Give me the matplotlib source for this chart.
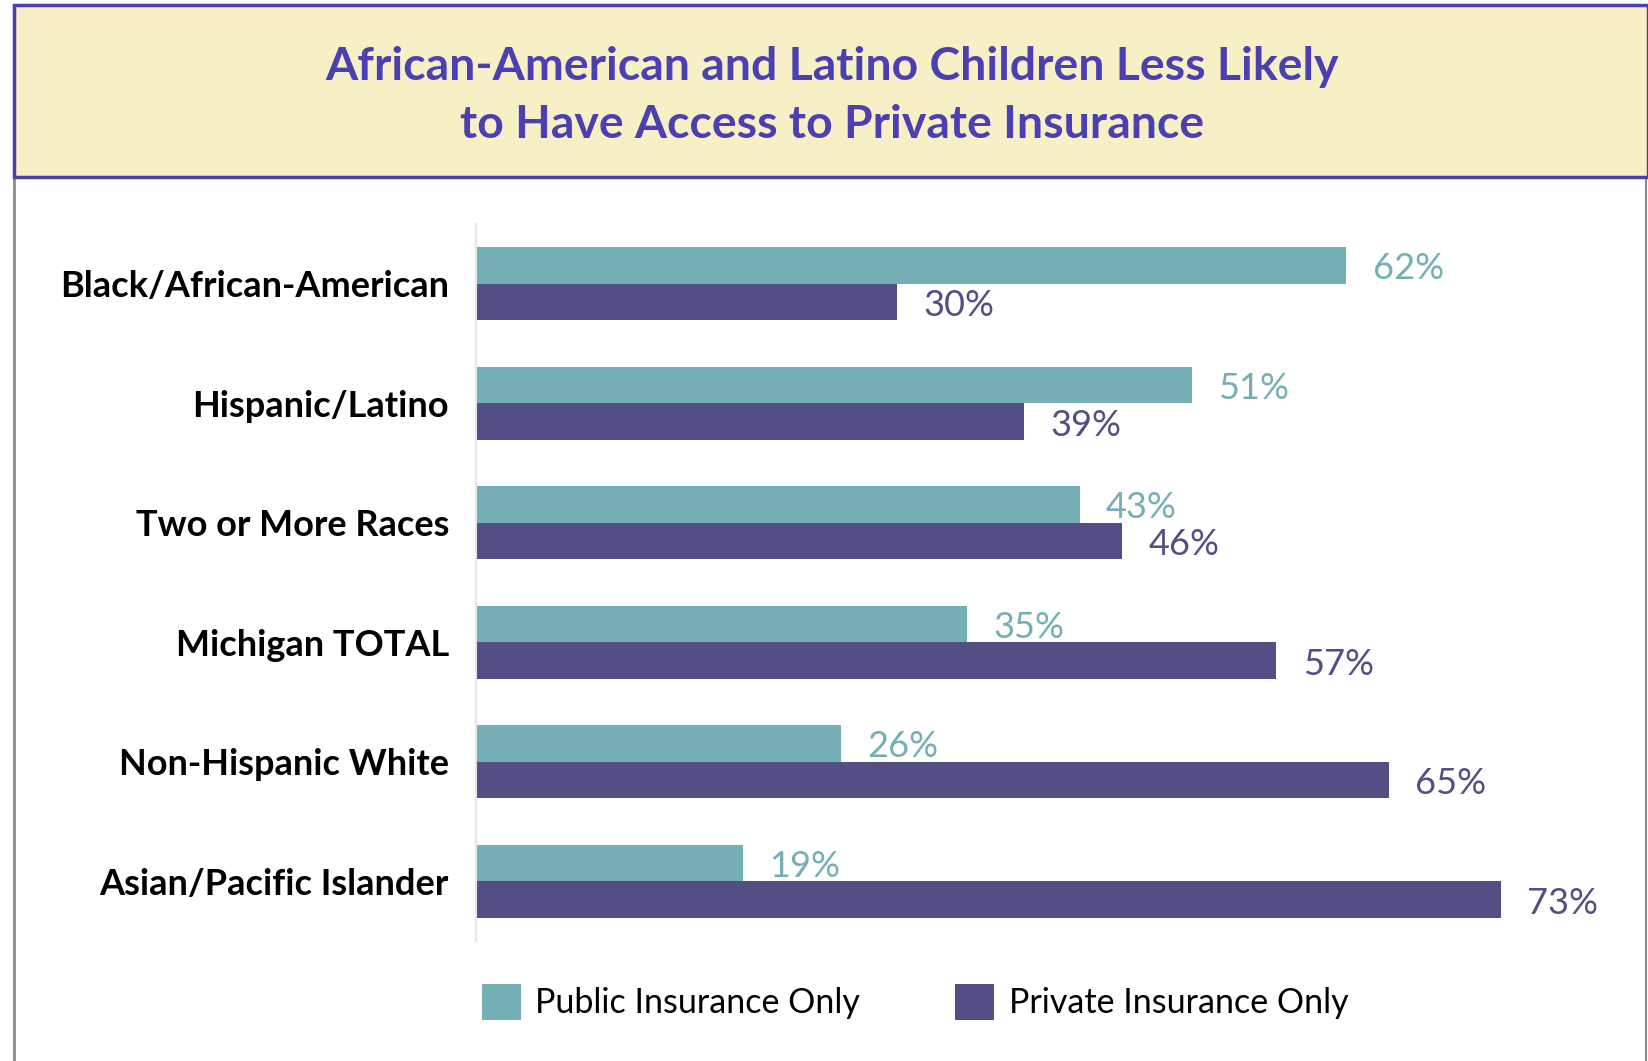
import matplotlib
matplotlib.use("Agg")
import matplotlib.pyplot as plt
from matplotlib.patches import Rectangle
from matplotlib.lines import Line2D
import numpy as np

plt.rcParams['font.family'] = ['Lato', 'DejaVu Sans']

# data
groups = ["Black/African-American", "Hispanic/Latino", "Two or More Races",
          "Michigan TOTAL", "Non-Hispanic White", "Asian/Pacific Islander"]
public_only = [62, 51, 43, 35, 26, 19]
private_only = [30, 39, 46, 57, 65, 73]
series_names = ["Public Insurance Only", "Private Insurance Only"]
title = "African-American and Latino Children Less Likely\nto Have Access to Private Insurance"

TEAL = "#74AFB5"
PURPLE = "#534F85"
TITLE_BLUE = "#4B40B2"

W, H = 1648, 1061
fig = plt.figure(figsize=(W / 100, H / 100), dpi=100)

# title box + outer frame
fig.patches.append(Rectangle((14 / W, 1 - 177 / H), (W - 14) / W, 172 / H,
                             transform=fig.transFigure, facecolor="#F7EFC6",
                             edgecolor=TITLE_BLUE, linewidth=2.5, zorder=2))
fig.lines.append(Line2D([14 / W, 14 / W], [0, 1 - 178 / H], transform=fig.transFigure,
                        color="#8a8a8a", linewidth=2))
fig.lines.append(Line2D([1646 / W, 1646 / W], [0, 1 - 178 / H], transform=fig.transFigure,
                        color="#8a8a8a", linewidth=1.5))
fig.text(832 / W, 1 - 96 / H, title, ha="center", va="center", fontsize=33.4,
         fontweight="bold", color=TITLE_BLUE, linespacing=1.5, zorder=3)

ax_left, ax_right = 476, 1620
ax_top, ax_bot = 224, 941
px_per_pct = 14.04
ax = fig.add_axes([ax_left / W, 1 - ax_bot / H, (ax_right - ax_left) / W, (ax_bot - ax_top) / H])

y = np.arange(len(groups))
h = 0.307
ax.barh(y - h / 2, public_only, height=h, color=TEAL, label=series_names[0])
ax.barh(y + h / 2, private_only, height=h, color=PURPLE, label=series_names[1])

for i in range(len(groups)):
    ax.annotate(f"{public_only[i]}%", (public_only[i], y[i] - h / 2), xytext=(19, -2.5),
                textcoords="offset points", va="center", ha="left", fontsize=26, color=TEAL)
    ax.annotate(f"{private_only[i]}%", (private_only[i], y[i] + h / 2), xytext=(19, -2.5),
                textcoords="offset points", va="center", ha="left", fontsize=26, color=PURPLE)

ax.set_xlim(0, (ax_right - ax_left) / px_per_pct)
ax.set_ylim(len(groups) - 0.5, -0.5)
ax.set_yticks(y)
ax.set_yticklabels(groups, fontsize=26, fontweight="bold")
ax.tick_params(axis="y", length=0, pad=19.5)
ax.set_xticks([])
for s in ["top", "right", "bottom"]:
    ax.spines[s].set_visible(False)
ax.spines["left"].set_color("#e6e6e6")
ax.spines["left"].set_linewidth(1.5)

fig.legend(loc="center", bbox_to_anchor=(915 / W, 1 - 1002 / H), ncol=2, frameon=False,
           fontsize=24.5, handlelength=1.15, handleheight=1.25, handletextpad=0.42,
           columnspacing=2.8)

fig.savefig("out.png", dpi=100)
